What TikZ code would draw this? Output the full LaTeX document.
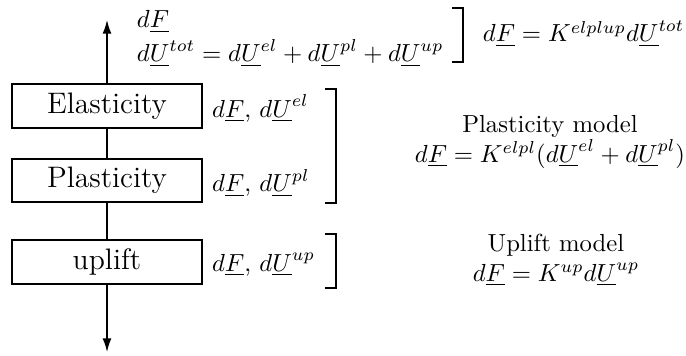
\documentclass[tikz,border=0pt]{standalone}
\usepackage{tikz}
\usetikzlibrary{arrows.meta, positioning, calc}
\usepackage{amsmath, amssymb}

\newcommand{\uF}{d\underline{F}}
\newcommand{\uU}{d\underline{U}}

\begin{document}
\begin{tikzpicture}[x=0.405pt, y=-0.405pt,
  block/.style={draw, line width=0.8pt, minimum width=77pt, minimum height=17.8pt, inner sep=0pt, font=\large},
  flow/.style={line width=0.6pt},
  brace/.style={line width=0.6pt},
  lbl/.style={inner sep=1pt, anchor=base west}]
  \useasboundingbox (0,0) rectangle (686,356);

  % layer boxes
  \node[block] (elast) at (107,106) {Elasticity};
  \node[block] (plast) at (107,180.5) {Plasticity};
  \node[block] (upl) at (107,262) {uplift};
  \coordinate (top) at (107,20);
  \coordinate (bot) at (107,352);

  % vertical line with arrows
  \draw[flow, -{Latex[length=5.5pt, width=3.6pt]}] (elast) -- (top);
  \draw[flow] (elast) -- (plast);
  \draw[flow] (plast) -- (upl);
  \draw[flow, -{Latex[length=5.5pt, width=3.6pt]}] (upl) -- (bot);

  % local quantities
  \node[inner sep=1pt, right=2.5pt of elast, yshift=-1pt] (elastlbl) {$\uF$, $\uU^{el}$};
  \node[inner sep=1pt, right=2.5pt of plast, yshift=-1pt] (plastlbl) {$\uF$, $\uU^{pl}$};
  \node[inner sep=1pt, right=2.5pt of upl, yshift=-1pt] (upllbl) {$\uF$, $\uU^{up}$};

  % total quantities
  \node[lbl] (totF) at (134,28) {$\uF$};
  \node[lbl] (totU) at (134,62) {$\uU^{tot} = \uU^{el} + \uU^{pl} + \uU^{up}$};
  \node[lbl] (totK) at (480,42) {$\uF = K^{elplup}\uU^{tot}$};

  % brackets
  \draw[brace] (452,8) -- (463,8) -- (463,62) -- (452,62);
  \draw[brace] (325,89) -- (336,89) -- (336,203) -- (325,203);
  \draw[brace] (325,234) -- (336,234) -- (336,288) -- (325,288);

  % models
  \node[align=center] (plmodel) at (550,142) {Plasticity model\\ $\uF = K^{elpl}(\uU^{el} + \uU^{pl})$};
  \node[align=center] (upmodel) at (556,260) {Uplift model\\ $\uF = K^{up}\uU^{up}$};
\end{tikzpicture}
\end{document}
